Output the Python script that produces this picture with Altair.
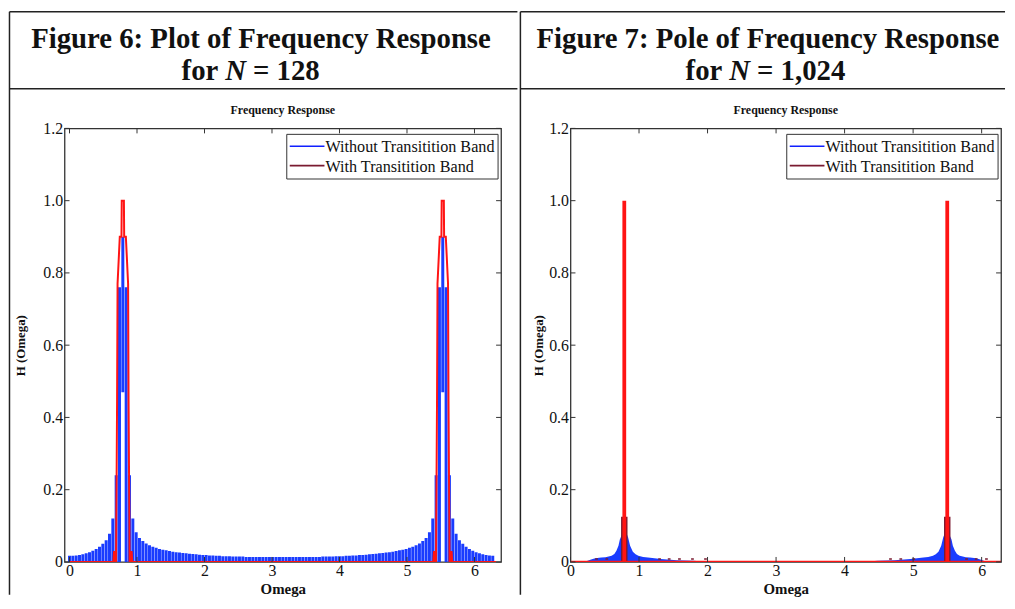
import altair as alt
import pandas as pd

# ---------------- data ----------------
N_LEFT = 128
OMEGA_MAX_LEFT = 6.32          # x-range of Figure 6 axes
OMEGA_MAX_RIGHT = 6.2832       # x-range of Figure 7 axes

# Figure 6: |H| of the "without transition band" response at the 128 samples
blue_128 = [
    0.017, 0.017, 0.018, 0.019, 0.021, 0.024, 0.027, 0.031, 0.036, 0.042, 0.050, 0.060, 0.078, 0.12, 0.24, 0.76,
    0.90,
    0.76, 0.24, 0.12, 0.082, 0.066, 0.058, 0.051, 0.046, 0.042, 0.039, 0.036, 0.034, 0.032, 0.030, 0.028,
    0.027, 0.026, 0.025, 0.024, 0.023, 0.022, 0.021, 0.020, 0.019, 0.019, 0.018, 0.018, 0.017, 0.017, 0.016, 0.016,
    0.016, 0.015, 0.015, 0.015, 0.015, 0.014, 0.014, 0.014, 0.014, 0.014, 0.014, 0.014, 0.014, 0.014, 0.014, 0.014,
    0.014, 0.014, 0.014, 0.014, 0.014, 0.014, 0.014, 0.014, 0.014, 0.014, 0.014, 0.014, 0.015, 0.015, 0.015, 0.015,
    0.016, 0.016, 0.016, 0.017, 0.017, 0.018, 0.018, 0.019, 0.019, 0.020, 0.021, 0.022, 0.023, 0.024, 0.025, 0.026,
    0.027, 0.028, 0.030, 0.032, 0.034, 0.036, 0.039, 0.042, 0.046, 0.051, 0.058, 0.066, 0.082, 0.12, 0.24, 0.76,
    0.90,
    0.76, 0.24, 0.12, 0.078, 0.060, 0.050, 0.042, 0.036, 0.031, 0.027, 0.024, 0.021, 0.019, 0.018, 0.017,
]
blue_gap_k = [16, 112]          # samples with a white slit at the bottom
blue_gap_bottom = 0.47

# Figure 6: "with transition band" response (red line) around each peak
red_peak_centers_128 = [0.79, 5.53]
red_peak_offsets = [-0.20, -0.14, -0.13, -0.12, -0.10, -0.097, -0.092, -0.085, -0.078, -0.045, -0.02, -0.016,
                    0.016, 0.02, 0.045, 0.078, 0.085, 0.092, 0.097, 0.10, 0.12, 0.13, 0.14, 0.20]
red_peak_values = [0, 0, 0.03, 0, 0, 0.12, 0.24, 0.45, 0.77, 0.90, 0.90, 1.0,
                   1.0, 0.90, 0.90, 0.77, 0.45, 0.24, 0.12, 0, 0, 0.03, 0, 0]

# Figure 7 (N = 1,024)
spike_omega_1024 = [0.785, 5.498]
spike_top_1024 = [1.0, 1.0]
spike_base_top_1024 = [0.125, 0.125]
blue_env_omega_1024 = [0.20, 0.30, 0.36, 0.45, 0.51, 0.60, 0.64, 0.67, 0.70, 0.72, 0.75, 0.77, 0.80, 0.82, 0.84,
                       0.87, 0.91, 0.95, 0.99, 1.06, 1.13, 1.32, 1.55, 1.80, 2.00,
                       4.28, 4.48, 4.73, 4.96, 5.15, 5.22, 5.29, 5.33, 5.37, 5.41, 5.44, 5.46, 5.48, 5.51, 5.53,
                       5.56, 5.58, 5.61, 5.64, 5.68, 5.77, 5.83, 5.92, 5.98, 6.08]
blue_env_h_1024 = [0.0, 0.007, 0.010, 0.012, 0.013, 0.017, 0.022, 0.031, 0.045, 0.062, 0.075, 0.085, 0.085, 0.078,
                   0.068, 0.045, 0.028, 0.021, 0.017, 0.014, 0.012, 0.008, 0.005, 0.003, 0.0,
                   0.0, 0.003, 0.005, 0.008, 0.012, 0.014, 0.017, 0.021, 0.028, 0.045, 0.068, 0.078, 0.085, 0.085,
                   0.075, 0.062, 0.045, 0.031, 0.022, 0.017, 0.013, 0.012, 0.010, 0.007, 0.0]
dash_omega_1024 = [0.36, 0.51, 1.28, 1.42, 1.57, 1.76, 1.95, 4.65, 4.80, 4.99, 5.76, 5.90, 6.05]
dash_len_1024 = 0.04
dash_h_1024 = 0.008

x_ticks = [0, 1, 2, 3, 4, 5, 6]
y_ticks = [0, 0.2, 0.4, 0.6, 0.8, 1.0, 1.2]
legend_labels = ["Without Transitition Band", "With Transitition Band"]
legend_colors = ["#1020ff", "#7a1a30"]
header_line1 = ["Figure 6: Plot of Frequency Response", "Figure 7: Pole of Frequency Response"]
header_for = "for"
header_N = "N"
header_line2_suffix = ["= 128", "= 1,024"]
subtitle = "Frequency Response"
x_title = "Omega"
y_title = "H (Omega)"

# ---------------- styling ----------------
FONT = "Liberation Serif"
W1, W2, H = 440, 434, 437
BLUE = "#1a3cff"
RED = "#ff1414"
MAROON = "#7a1a30"
FRAME = "#333333"
INK = "#111111"
LINE = "#222222"

one = pd.DataFrame({"z": [0]})


def xenc(field, dom, w):
    return alt.X(field, type="quantitative",
                 scale=alt.Scale(domain=[0, dom], nice=False, zero=False),
                 axis=alt.Axis(values=x_ticks, format="d", grid=False, ticks=False, domain=False,
                               labelFont=FONT, labelFontSize=16, labelColor=INK, labelPadding=1,
                               labelFlush=False, title=x_title, titleFont=FONT, titleFontSize=15,
                               titleFontWeight="bold", titleColor=INK, titleX=w / 2, titleY=27,
                               titleBaseline="middle", titleAlign="center"))


def yenc(field, title_x):
    return alt.Y(field, type="quantitative",
                 scale=alt.Scale(domain=[0, 1.2], nice=False, zero=False),
                 axis=alt.Axis(values=y_ticks, grid=False, ticks=False, domain=False,
                               labelExpr="datum.value == 0 ? '0' : format(datum.value, '.1f')",
                               labelFont=FONT, labelFontSize=16, labelColor=INK, labelPadding=2,
                               labelFlush=False, title=y_title, titleFont=FONT, titleFontSize=13,
                               titleFontWeight="bold", titleColor=INK, titleX=title_x, titleY=H / 2,
                               titleAngle=270, titleBaseline="middle", titleAlign="center"))


def frame_ticks(dom, w, title_x):
    xt = pd.DataFrame({"omega": x_ticks})
    yt = pd.DataFrame({"h": y_ticks})
    top = alt.Chart(xt).mark_rule(color=FRAME, strokeWidth=1).encode(
        x=xenc("omega", dom, w), y=alt.value(0), y2=alt.value(5))
    bot = alt.Chart(xt).mark_rule(color=FRAME, strokeWidth=1).encode(
        x=xenc("omega", dom, w), y=alt.value(H - 5), y2=alt.value(H))
    left = alt.Chart(yt).mark_rule(color=FRAME, strokeWidth=1).encode(
        y=yenc("h", title_x), x=alt.value(0), x2=alt.value(5))
    right = alt.Chart(yt).mark_rule(color=FRAME, strokeWidth=1).encode(
        y=yenc("h", title_x), x=alt.value(w - 5), x2=alt.value(w))
    return [top, bot, left, right]


def legend_layers(w):
    layers = [alt.Chart(one).mark_rect(fill="white", stroke=FRAME, strokeWidth=1).encode(
        x=alt.value(w - 216), x2=alt.value(w - 3), y=alt.value(6), y2=alt.value(51))]
    for i, (lab, col) in enumerate(zip(legend_labels, legend_colors)):
        layers.append(alt.Chart(one).mark_rule(color=col, strokeWidth=1.6).encode(
            x=alt.value(w - 213), x2=alt.value(w - 178), y=alt.value(18 + 19.5 * i)))
        layers.append(alt.Chart(one).mark_text(align="left", baseline="middle", font=FONT, fontSize=16.3,
                                               color=INK).encode(
            x=alt.value(w - 177), y=alt.value(19 + 20 * i), text=alt.value(lab)))
    return layers


def header_layers(idx, w, left_x, right_x, line1_cx, line2_x):
    L = []
    L.append(alt.Chart(one).mark_rule(color=LINE, strokeWidth=1.5).encode(
        x=alt.value(left_x), x2=alt.value(right_x), y=alt.value(-117.5)))
    L.append(alt.Chart(one).mark_rule(color=LINE, strokeWidth=1.5).encode(
        x=alt.value(left_x), x2=alt.value(right_x), y=alt.value(-40)))
    L.append(alt.Chart(one).mark_rule(color=LINE, strokeWidth=1.5).encode(
        x=alt.value(left_x), y=alt.value(-117.5), y2=alt.value(470)))
    L.append(alt.Chart(one).mark_text(align="center", baseline="alphabetic", font=FONT, fontSize=29,
                                      fontWeight="bold", color=INK).encode(
        x=alt.value(line1_cx), y=alt.value(-81), text=alt.value(header_line1[idx])))
    L.append(alt.Chart(one).mark_text(align="left", baseline="alphabetic", font=FONT, fontSize=29,
                                      fontWeight="bold", color=INK).encode(
        x=alt.value(line2_x), y=alt.value(-49), text=alt.value(header_for)))
    L.append(alt.Chart(one).mark_text(align="left", baseline="alphabetic", font=FONT, fontSize=29,
                                      fontWeight="bold", fontStyle="italic", color=INK).encode(
        x=alt.value(line2_x + 44), y=alt.value(-49), text=alt.value(header_N)))
    L.append(alt.Chart(one).mark_text(align="left", baseline="alphabetic", font=FONT, fontSize=29,
                                      fontWeight="bold", color=INK).encode(
        x=alt.value(line2_x + 72), y=alt.value(-49), text=alt.value(header_line2_suffix[idx])))
    L.append(alt.Chart(one).mark_text(align="center", baseline="middle", font=FONT, fontSize=12,
                                      fontWeight="bold", color=INK).encode(
        x=alt.value(w / 2), y=alt.value(-19), text=alt.value(subtitle)))
    return L


# ---------------- Figure 6 (N = 128) ----------------
step = OMEGA_MAX_LEFT / N_LEFT
df_blue = pd.DataFrame({
    "omega": [k * step for k in range(N_LEFT)],
    "h": blue_128,
    "base": [blue_gap_bottom if k in blue_gap_k else 0.0 for k in range(N_LEFT)],
})
red_pts = [(0.0, 0.0)]
for c in red_peak_centers_128:
    for o, v in zip(red_peak_offsets, red_peak_values):
        red_pts.append((c + o, v))
red_pts.append((OMEGA_MAX_LEFT, 0.0))
df_red = pd.DataFrame({"omega": [p[0] for p in red_pts], "h": [p[1] for p in red_pts],
                       "i": list(range(len(red_pts)))})

TX1 = -44
blue_bars = alt.Chart(df_blue).mark_bar(width=3.0, color=BLUE, clip=True).encode(
    x=xenc("omega", OMEGA_MAX_LEFT, W1), y=yenc("h", TX1), y2="base")
red_line = alt.Chart(df_red).mark_line(color=RED, strokeWidth=2, clip=True).encode(
    x=xenc("omega", OMEGA_MAX_LEFT, W1), y=yenc("h", TX1), order=alt.Order("i:Q"))

panel1 = alt.layer(
    blue_bars, red_line,
    *frame_ticks(OMEGA_MAX_LEFT, W1, TX1),
    *legend_layers(W1),
    *header_layers(0, W1, -55.5, 456.5, 198, 118),
).properties(width=W1, height=H)

# ---------------- Figure 7 (N = 1,024) ----------------
TX2 = -32
df_env = pd.DataFrame({"omega": blue_env_omega_1024, "h": blue_env_h_1024})
df_spike = pd.DataFrame({"omega": spike_omega_1024, "h": spike_top_1024, "hb": spike_base_top_1024,
                         "zero": [0.0, 0.0]})
df_base = pd.DataFrame({"omega": [0.0, OMEGA_MAX_RIGHT], "h": [0.0, 0.0]})
df_dash = pd.DataFrame({"omega": dash_omega_1024,
                        "omega2": [o + dash_len_1024 for o in dash_omega_1024],
                        "h": [dash_h_1024] * len(dash_omega_1024)})

env = alt.Chart(df_env).mark_area(color=BLUE, opacity=1, clip=True).encode(
    x=xenc("omega", OMEGA_MAX_RIGHT, W2), y=yenc("h", TX2))
maroon_base = alt.Chart(df_spike).mark_rule(color=MAROON, strokeWidth=6.5, clip=True).encode(
    x=xenc("omega", OMEGA_MAX_RIGHT, W2), y=yenc("hb", TX2), y2="zero")
spike = alt.Chart(df_spike).mark_rule(color=RED, strokeWidth=3.8, clip=True).encode(
    x=xenc("omega", OMEGA_MAX_RIGHT, W2), y=yenc("h", TX2), y2="zero")
base = alt.Chart(df_base).mark_line(color=RED, strokeWidth=2.5, clip=True).encode(
    x=xenc("omega", OMEGA_MAX_RIGHT, W2), y=yenc("h", TX2))
dashes = alt.Chart(df_dash).mark_rule(color=MAROON, strokeWidth=1.5, clip=True).encode(
    x=xenc("omega", OMEGA_MAX_RIGHT, W2), x2="omega2", y=yenc("h", TX2))

panel2 = alt.layer(
    env, maroon_base, spike, base, dashes,
    *frame_ticks(OMEGA_MAX_RIGHT, W2, TX2),
    *legend_layers(W2),
    *header_layers(1, W2, -50.5, 438, 199, 116),
).properties(width=W2, height=H)

chart = alt.hconcat(panel1, panel2, spacing=0, padding=0, background="white").configure_view(
    stroke=FRAME, strokeWidth=1.3)

chart.save("out.html", embed_options={"renderer": "svg", "actions": False})
